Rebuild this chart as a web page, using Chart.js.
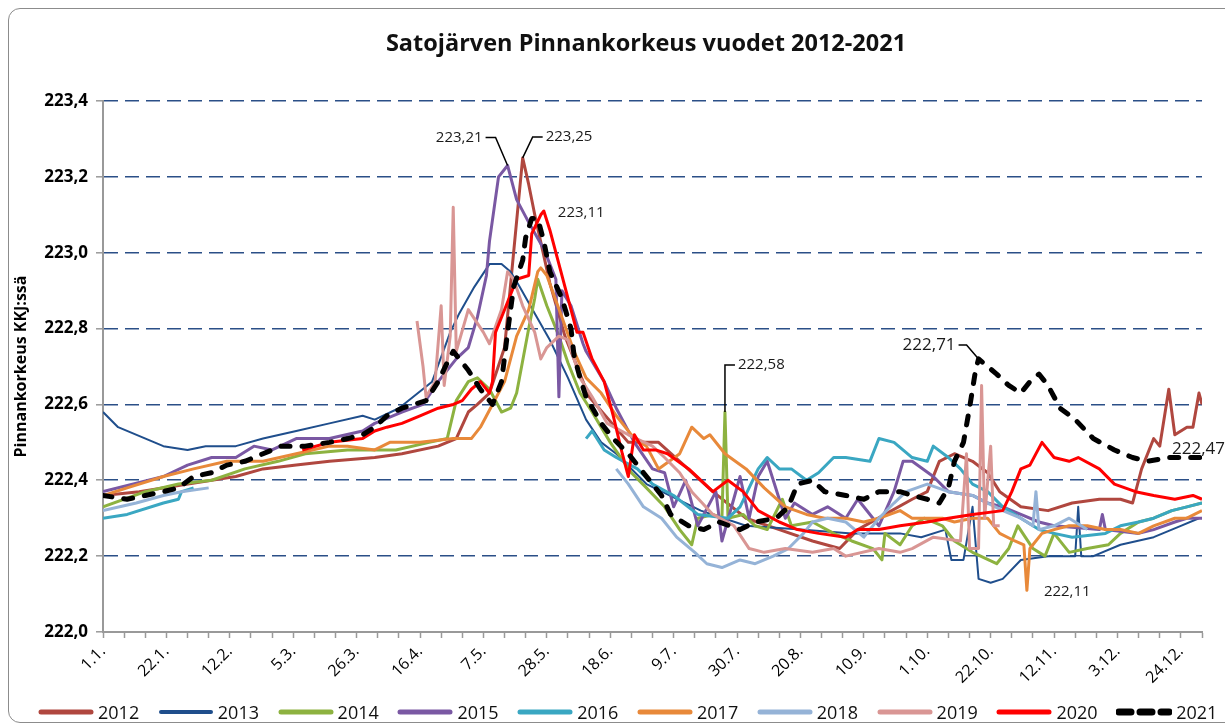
<!DOCTYPE html>
<html>
<head>
<meta charset="utf-8">
<script src="https://cdn.jsdelivr.net/npm/chart.js@4.4.1/dist/chart.umd.min.js"></script>
<style>
  body { margin: 0; background: #fff; font-family: "Open Sans", sans-serif; }
  #wrap { position: relative; width: 1225px; height: 725px; overflow: hidden; }
  #frame { position: absolute; left: 8px; top: 8px; width: 1280px; height: 713px; border: 1.5px solid #8c8c8c; border-radius: 12px; }
  #title { position: absolute; left: 0; top: 26px; width: 1292px; text-align: center; font-size: 23.5px; font-weight: 700; color: #111; }
  canvas { position: absolute; left: 0; top: 0; }
  .item { position: absolute; top: 700px; height: 24px; display: flex; align-items: center; font-size: 18px; color: #111; }
  .item svg { margin-right: 4px; }
</style>
</head>
<body>
<div id="wrap">
  <div id="frame"></div>
  <canvas id="levelChart" width="1225" height="725"></canvas>
  <div id="title">Satojärven Pinnankorkeus vuodet 2012-2021</div>
  <div id="legend"></div>
</div>
<script>
const years = [2012, 2013, 2014, 2015, 2016, 2017, 2018, 2019, 2020, 2021];
const tickLabels = ["1.1.", "22.1.", "12.2.", "5.3.", "26.3.", "16.4.", "7.5.", "28.5.", "18.6.",
  "9.7.", "30.7.", "20.8.", "10.9.", "1.10.", "22.10.", "12.11.", "3.12.", "24.12."];

// [day of year, level]
const lvl2012 = [[1,222.36],[13,222.37],[37,222.40],[45,222.41],[54,222.43],[65,222.44],[76,222.45],[91,222.46],[100,222.47],[112,222.49],[118,222.51],[122,222.58],[125,222.60],[129,222.63],[134,222.75],[137,223.00],[140,223.25],[142,223.18],[144,223.10],[149,222.92],[154,222.78],[162,222.62],[175,222.50],[185,222.50],[192,222.45],[203,222.37],[214,222.30],[225,222.27],[236,222.24],[245,222.22],[251,222.27],[260,222.31],[269,222.35],[274,222.37],[278,222.45],[283,222.47],[289,222.45],[294,222.42],[298,222.37],[305,222.33],[314,222.32],[322,222.34],[331,222.35],[338,222.35],[342,222.34],[345,222.43],[349,222.51],[351,222.49],[354,222.64],[356,222.52],[360,222.54],[362,222.54],[364,222.63],[365,222.60]];
const lvl2013 = [[1,222.58],[6,222.54],[21,222.49],[29,222.48],[35,222.49],[45,222.49],[54,222.51],[65,222.53],[76,222.55],[87,222.57],[91,222.56],[99,222.59],[110,222.66],[116,222.79],[119,222.84],[124,222.91],[129,222.97],[133,222.97],[136,222.95],[139,222.91],[144,222.84],[149,222.77],[155,222.67],[161,222.56],[166,222.50],[171,222.47],[181,222.39],[199,222.32],[214,222.28],[232,222.27],[249,222.26],[265,222.26],[272,222.25],[280,222.27],[282,222.19],[286,222.19],[289,222.33],[291,222.14],[295,222.13],[299,222.14],[305,222.19],[314,222.20],[323,222.20],[324,222.33],[325,222.20],[329,222.20],[338,222.23],[349,222.25],[358,222.28],[364,222.30]];
const lvl2014 = [[1,222.33],[15,222.37],[26,222.39],[37,222.40],[48,222.43],[59,222.45],[68,222.47],[82,222.48],[98,222.48],[109,222.50],[115,222.51],[118,222.61],[122,222.66],[125,222.67],[129,222.64],[133,222.58],[136,222.59],[138,222.63],[142,222.80],[144,222.88],[145,222.93],[148,222.86],[152,222.78],[155,222.71],[159,222.63],[163,222.58],[169,222.50],[176,222.42],[181,222.38],[187,222.33],[192,222.27],[196,222.23],[198,222.30],[203,222.31],[206,222.30],[207,222.58],[208,222.30],[213,222.31],[217,222.28],[221,222.27],[226,222.35],[229,222.28],[236,222.29],[243,222.26],[249,222.24],[256,222.22],[259,222.19],[260,222.26],[265,222.23],[269,222.28],[273,222.30],[279,222.28],[283,222.24],[289,222.21],[297,222.18],[301,222.22],[304,222.28],[309,222.22],[313,222.20],[316,222.26],[321,222.21],[327,222.22],[334,222.23],[338,222.26],[344,222.29],[349,222.30],[355,222.32],[360,222.33],[365,222.34]];
const lvl2015 = [[1,222.37],[21,222.41],[29,222.44],[37,222.46],[45,222.46],[51,222.49],[57,222.48],[65,222.51],[76,222.51],[87,222.53],[91,222.55],[100,222.58],[107,222.60],[112,222.66],[118,222.72],[122,222.75],[125,222.83],[128,222.94],[129,223.03],[132,223.20],[135,223.23],[138,223.14],[142,223.08],[147,223.01],[151,222.93],[152,222.62],[153,222.90],[156,222.86],[160,222.76],[161,222.74],[167,222.66],[171,222.59],[177,222.50],[183,222.43],[187,222.42],[190,222.33],[194,222.40],[198,222.28],[204,222.37],[206,222.24],[212,222.41],[215,222.30],[218,222.41],[221,222.45],[227,222.30],[230,222.34],[236,222.31],[241,222.33],[247,222.30],[251,222.35],[258,222.28],[263,222.37],[266,222.45],[269,222.45],[276,222.41],[281,222.37],[289,222.36],[294,222.34],[299,222.33],[305,222.31],[311,222.29],[316,222.28],[331,222.27],[332,222.31],[333,222.27],[344,222.26],[349,222.27],[356,222.29],[360,222.30],[365,222.30]];
const lvl2016 = [[1,222.30],[9,222.31],[21,222.34],[26,222.35],[27,222.37],[31,222.38],[100,null],[161,222.51],[163,222.53],[167,222.48],[171,222.46],[178,222.43],[183,222.39],[190,222.36],[198,222.31],[208,222.30],[212,222.33],[218,222.43],[221,222.46],[225,222.43],[229,222.43],[234,222.40],[238,222.42],[243,222.46],[247,222.46],[255,222.45],[258,222.51],[263,222.50],[269,222.46],[274,222.45],[276,222.49],[281,222.46],[285,222.43],[289,222.39],[294,222.37],[299,222.33],[305,222.30],[311,222.27],[316,222.26],[322,222.25],[333,222.26],[338,222.28],[344,222.29],[349,222.30],[355,222.32],[360,222.33],[365,222.34]];
const lvl2017 = [[1,222.36],[9,222.38],[21,222.41],[31,222.43],[42,222.45],[54,222.45],[65,222.47],[76,222.49],[82,222.49],[91,222.48],[96,222.50],[106,222.50],[117,222.51],[123,222.51],[126,222.54],[130,222.60],[134,222.66],[138,222.78],[142,222.85],[145,222.95],[146,222.96],[148,222.94],[153,222.83],[157,222.74],[161,222.67],[166,222.63],[171,222.57],[177,222.51],[181,222.49],[185,222.43],[192,222.47],[196,222.54],[200,222.51],[202,222.52],[207,222.47],[214,222.43],[220,222.38],[227,222.33],[234,222.31],[240,222.30],[247,222.30],[253,222.29],[258,222.30],[265,222.32],[269,222.30],[274,222.30],[279,222.30],[283,222.29],[289,222.30],[294,222.30],[298,222.26],[303,222.24],[306,222.23],[307,222.11],[308,222.22],[312,222.26],[316,222.27],[321,222.28],[327,222.28],[333,222.27],[338,222.27],[344,222.26],[349,222.28],[356,222.30],[360,222.30],[365,222.32]];
const lvl2018 = [[1,222.32],[12,222.34],[21,222.36],[27,222.37],[36,222.38],[100,null],[171,222.43],[175,222.39],[180,222.33],[186,222.30],[191,222.25],[197,222.21],[201,222.18],[206,222.17],[212,222.19],[217,222.18],[223,222.20],[228,222.22],[233,222.26],[236,222.29],[241,222.30],[247,222.29],[253,222.25],[258,222.30],[263,222.34],[267,222.37],[274,222.39],[281,222.37],[289,222.36],[294,222.34],[299,222.32],[305,222.30],[309,222.28],[310,222.37],[311,222.27],[316,222.28],[321,222.30],[327,222.27]];
const lvl2019 = [[105,222.82],[107,222.70],[108,222.62],[111,222.66],[113,222.86],[114,222.65],[116,222.78],[117,223.12],[118,222.74],[122,222.85],[127,222.79],[129,222.76],[133,222.85],[135,222.95],[137,222.93],[140,222.86],[144,222.79],[146,222.72],[148,222.75],[152,222.78],[155,222.77],[159,222.67],[163,222.62],[168,222.55],[175,222.52],[183,222.49],[187,222.46],[192,222.42],[196,222.37],[203,222.31],[210,222.28],[215,222.22],[220,222.21],[227,222.22],[236,222.21],[243,222.22],[247,222.20],[258,222.22],[265,222.21],[269,222.22],[276,222.25],[285,222.24],[287,222.47],[288,222.22],[291,222.22],[292,222.65],[293,222.30],[295,222.49],[296,222.28],[298,222.28]];
const lvl2020 = [[67,222.48],[76,222.50],[87,222.51],[91,222.53],[95,222.54],[100,222.55],[106,222.57],[112,222.59],[117,222.60],[120,222.61],[123,222.64],[126,222.66],[129,222.63],[130,222.66],[131,222.79],[133,222.83],[136,222.89],[138,222.93],[142,222.94],[143,223.05],[146,223.10],[147,223.11],[149,223.06],[153,222.94],[156,222.85],[158,222.79],[160,222.79],[163,222.72],[167,222.66],[170,222.57],[173,222.47],[175,222.41],[177,222.52],[180,222.48],[184,222.48],[188,222.47],[195,222.43],[203,222.37],[208,222.40],[213,222.37],[218,222.32],[225,222.29],[231,222.27],[238,222.26],[247,222.25],[251,222.27],[258,222.27],[265,222.28],[274,222.29],[281,222.30],[289,222.31],[299,222.32],[302,222.37],[305,222.43],[308,222.44],[312,222.50],[316,222.46],[321,222.45],[324,222.46],[331,222.43],[336,222.39],[343,222.37],[349,222.36],[356,222.35],[362,222.36],[365,222.35]];
const lvl2021 = [[1,222.36],[9,222.35],[15,222.36],[21,222.37],[26,222.38],[31,222.41],[37,222.42],[42,222.44],[48,222.45],[54,222.47],[60,222.49],[68,222.49],[76,222.50],[82,222.51],[87,222.52],[91,222.54],[95,222.57],[100,222.59],[108,222.61],[112,222.66],[115,222.71],[117,222.74],[122,222.69],[126,222.64],[130,222.60],[133,222.66],[135,222.79],[137,222.91],[140,222.98],[141,223.04],[143,223.09],[145,223.09],[147,223.03],[149,222.95],[153,222.88],[156,222.80],[157,222.73],[159,222.67],[161,222.62],[166,222.55],[170,222.51],[175,222.47],[180,222.42],[186,222.36],[189,222.31],[195,222.28],[200,222.27],[205,222.29],[212,222.27],[217,222.29],[224,222.30],[228,222.33],[231,222.39],[236,222.40],[240,222.37],[247,222.36],[253,222.35],[258,222.37],[265,222.37],[269,222.36],[274,222.35],[278,222.34],[281,222.38],[283,222.45],[286,222.50],[288,222.59],[290,222.69],[291,222.72],[297,222.68],[301,222.65],[305,222.63],[308,222.66],[311,222.68],[314,222.65],[318,222.59],[323,222.56],[329,222.51],[336,222.48],[342,222.46],[347,222.45],[354,222.46],[360,222.46],[365,222.46]];

const series = [lvl2012, lvl2013, lvl2014, lvl2015, lvl2016, lvl2017, lvl2018, lvl2019, lvl2020, lvl2021];
const colors = ["#B0473F", "#1F4E8C", "#8DB240", "#7A58A3", "#3AA7C2", "#E8893A", "#95B3D7", "#D99694", "#FF0000", "#000000"];
const widths = [3, 2, 3, 3, 3, 3, 3, 3, 3, 5];

// labelled values: anchored on the series value, leader path in px offsets
const notes = [
  { text: "223,21", day: 135, value: 223.23, path: [[-12, -28], [-22, -28]], leader: true, align: "right", size: 15 },
  { text: "223,25", day: 140, value: 223.25, path: [[10, -21], [20, -21]], leader: true, align: "left", size: 15 },
  { text: "223,11", day: 147, value: 223.11, path: [[11, 2]], leader: false, align: "left", size: 15 },
  { text: "222,58", day: 207, value: 222.58, path: [[0, -47], [10, -47]], leader: true, align: "left", size: 15 },
  { text: "222,71", day: 291, value: 222.72, path: [[-12, -14], [-20, -14]], leader: true, align: "right", size: 17 },
  { text: "222,47", day: 365, value: 222.46, path: [[-33, -8]], leader: false, align: "left", size: 17 },
  { text: "222,11", day: 307, value: 222.11, path: [[14, 1]], leader: false, align: "left", size: 15 }
];

const weekTicks = Array.from({ length: 53 }, (_, i) => 1 + 7 * i);

const notePlugin = {
  id: "notes",
  afterDatasetsDraw(chart) {
    const { ctx, scales: { x, y } } = chart;
    ctx.save();
    ctx.strokeStyle = "#000";
    ctx.lineWidth = 1.5;
    ctx.fillStyle = "#1a1a1a";
    ctx.textBaseline = "middle";
    notes.forEach(n => {
      const px = x.getPixelForValue(n.day);
      const py = y.getPixelForValue(n.value);
      const pts = n.path.map(([dx, dy]) => [px + dx, py + dy]);
      if (n.leader) {
        ctx.beginPath();
        ctx.moveTo(px, py);
        pts.forEach(p => ctx.lineTo(p[0], p[1]));
        ctx.stroke();
      }
      const [tx, ty] = pts[pts.length - 1];
      ctx.font = `${n.size}px "Open Sans"`;
      ctx.textAlign = n.align;
      ctx.fillText(n.text, tx + (n.align === "left" ? 3 : -3), ty);
    });
    ctx.restore();
  }
};

Chart.defaults.font.family = '"Open Sans", sans-serif';
Chart.defaults.color = "#000";

new Chart(document.getElementById("levelChart"), {
  type: "line",
  data: {
    datasets: years.map((yr, i) => ({
      label: String(yr),
      data: series[i],
      borderColor: colors[i],
      backgroundColor: colors[i],
      borderWidth: widths[i],
      borderDash: yr === 2021 ? [9, 12] : [],
      borderCapStyle: yr === 2021 ? "round" : "butt",
      borderJoinStyle: "round",
      pointRadius: 0,
      tension: 0,
      spanGaps: false,
      order: years.length - i
    }))
  },
  options: {
    responsive: false,
    animation: false,
    layout: { padding: { top: 101, right: 23, bottom: 33, left: 0 } },
    plugins: {
      legend: { display: false },
      tooltip: { enabled: false }
    },
    scales: {
      x: {
        type: "linear",
        min: 1,
        max: 365,
        afterBuildTicks(scale) { scale.ticks = weekTicks.map(v => ({ value: v })); },
        afterFit(scale) { scale.height = 60; },
        ticks: {
          autoSkip: false,
          minRotation: 45,
          maxRotation: 45,
          padding: 4,
          font: { size: 16 },
          callback(v) {
            const i = (v - 1) / 21;
            return Number.isInteger(i) && tickLabels[i] ? tickLabels[i] : "";
          }
        },
        grid: { drawOnChartArea: false, tickLength: 6, tickColor: "#999", tickWidth: 1.5 },
        border: { color: "#999", width: 2 }
      },
      y: {
        min: 222,
        max: 223.4,
        afterFit(scale) { scale.width = 103; },
        ticks: {
          stepSize: 0.2,
          padding: 8,
          font: { size: 17, weight: "bold" },
          callback: v => v.toFixed(1).replace(".", ",")
        },
        grid: {
          color: ctx => (ctx.tick && ctx.tick.value < 222.05 ? "rgba(0,0,0,0)" : "#2B4F87"),
          lineWidth: 1.6,
          tickColor: "#999",
          tickLength: 7,
          tickWidth: 1.5
        },
        border: { color: "#999", width: 2, dash: [14, 7] },
        title: {
          display: true,
          text: "Pinnankorkeus KKJ:ssä",
          font: { size: 16, weight: "bold" },
          padding: { top: 12, bottom: 0 }
        }
      }
    }
  },
  plugins: [notePlugin]
});

document.getElementById("legend").innerHTML = years.map((yr, i) => `
  <div class="item" style="left:${38 + i * 119.8}px">
    <svg width="56" height="12"><line x1="3" y1="6" x2="53" y2="6" stroke="${colors[i]}"
      stroke-width="${widths[i] + 2}" stroke-linecap="round"${yr === 2021 ? ' stroke-dasharray="12 9"' : ""}/></svg>
    <span>${yr}</span>
  </div>`).join("");
</script>
</body>
</html>
